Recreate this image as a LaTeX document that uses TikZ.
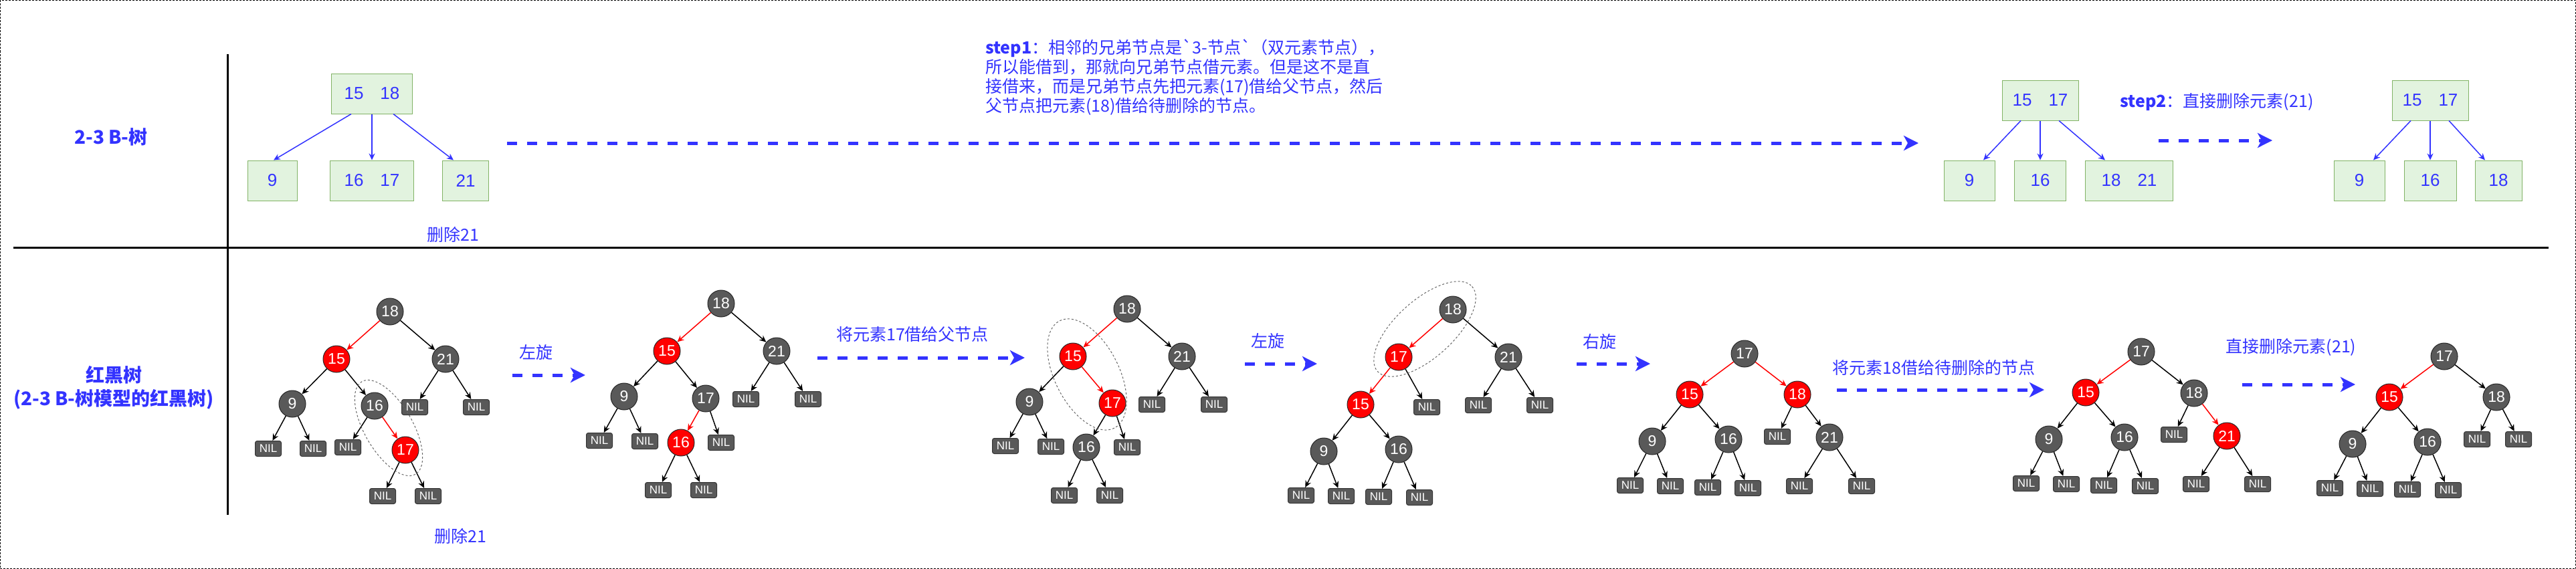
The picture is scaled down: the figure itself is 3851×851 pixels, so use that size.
\documentclass[tikz,border=0pt]{standalone}
\usepackage{fontspec}
\setmainfont{Liberation Sans}
\newfontfamily\cjk{Noto Sans CJK SC}
\usetikzlibrary{arrows.meta}
\definecolor{hblue}{HTML}{3333FF}
\definecolor{ngray}{HTML}{595959}
\definecolor{bfill}{HTML}{E2F3DF}
\definecolor{bline}{HTML}{82B366}
\tikzset{
  bnode/.style={circle,draw=black!85,fill=ngray,line width=1pt,minimum size=40pt,inner sep=0pt,text=white,font=\fontsize{23}{23}\selectfont},
  rnode/.style={bnode,fill=red},
  nilbox/.style={rectangle,rounded corners=3pt,draw=black!80,fill=ngray,line width=1pt,minimum width=39pt,minimum height=23pt,inner sep=0pt,text=white,font=\fontsize{17}{17}\selectfont},
  edge/.style={-{Stealth[length=10pt,width=9pt]},line width=1.5pt},
  redge/.style={edge,red},
  bbox/.style={draw=bline,fill=bfill,line width=1pt,minimum height=60pt,inner sep=0pt,text=hblue,font=\fontsize{26}{26}\selectfont},
  bedge/.style={-{Stealth[length=10pt,width=9pt]},line width=1.5pt,hblue},
  flow/.style={-{Stealth[length=22pt,width=22pt,inset=6pt]},line width=5pt,hblue,dash pattern=on 15pt off 15pt},
  hint/.style={draw=black!60,line width=1pt,dash pattern=on 3pt off 3pt},
  lbl/.style={text=hblue,font=\cjk\fontsize{25}{29}\selectfont,inner sep=0pt},
  title/.style={lbl,font=\cjk\bfseries\fontsize{28}{35}\selectfont,align=center}
}

\begin{document}
\begin{tikzpicture}[x=1pt,y=-1pt]
  \useasboundingbox (0,0) rectangle (3851,851);
  \draw[line width=1pt,dash pattern=on 3pt off 2pt] (0.5,0.5) rectangle (3850.5,850.5);
  \draw[line width=3pt] (340,81) -- (340,770);
  \draw[line width=3pt] (20,370) -- (3810,370);

  \node[title] (tbt) at (166,205) {2-3 B-树};
  \node[title] (trb) at (170,580) {红黑树\\(2-3 B-树模型的红黑树)};

  % 2-3 tree
  \node[bbox,minimum width=121pt] (p1) at (556,140) {15\hspace{25pt}18};
  \node[bbox,minimum width=74pt] (p1a) at (407,270) {9};
  \node[bbox,minimum width=125pt] (p1b) at (556,270) {16\hspace{25pt}17};
  \node[bbox,minimum width=69pt] (p1c) at (696,270) {21};
  \draw[bedge] ([xshift=-31pt]p1.south) -- ([xshift=2pt]p1a.north);
  \draw[bedge] (p1.south) -- (p1b.north);
  \draw[bedge] ([xshift=32pt]p1.south) -- ([xshift=-18pt]p1c.north);
  \node[lbl] (del1) at (677,351) {删除21};

  \node[bbox,minimum width=114pt] (p2) at (3050,150) {15\hspace{25pt}17};
  \node[bbox,minimum width=76pt] (p2a) at (2944,270) {9};
  \node[bbox,minimum width=77pt] (p2b) at (3050,270) {16};
  \node[bbox,minimum width=131pt] (p2c) at (3183,270) {18\hspace{25pt}21};
  \draw[bedge] ([xshift=-29pt]p2.south) -- ([xshift=21pt]p2a.north);
  \draw[bedge] (p2.south) -- (p2b.north);
  \draw[bedge] ([xshift=28pt]p2.south) -- ([xshift=-36pt]p2c.north);

  \node[bbox,minimum width=114pt] (p3) at (3633,150) {15\hspace{25pt}17};
  \node[bbox,minimum width=76pt] (p3a) at (3527,270) {9};
  \node[bbox,minimum width=78pt] (p3b) at (3633,270) {16};
  \node[bbox,minimum width=70pt] (p3c) at (3735,270) {18};
  \draw[bedge] ([xshift=-29pt]p3.south) -- ([xshift=21pt]p3a.north);
  \draw[bedge] (p3.south) -- (p3b.north);
  \draw[bedge] ([xshift=28pt]p3.south) -- ([xshift=-20pt]p3c.north);

  \node[lbl,align=left,anchor=north west] (s1) at (1473,58)
    {{\bfseries step1}：相邻的兄弟节点是\textasciigrave 3-节点\textasciigrave（双元素节点），\\
     所以能借到，那就向兄弟节点借元素。但是这不是直\\
     接借来，而是兄弟节点先把元素(17)借给父节点，然后\\
     父节点把元素(18)借给待删除的节点。};
  \node[lbl] (s2) at (3314,152) {{\bfseries step2}：直接删除元素(21)};
  \coordinate (f0s) at (758,214); \coordinate (f0e) at (2868,214);
  \coordinate (f1s) at (3227,210); \coordinate (f1e) at (3397,210);
  \draw[flow] (f0s) -- (f0e);
  \draw[flow] (f1s) -- (f1e);

  % red-black trees
  \foreach \n/\x/\y/\t in {a18/583/466/18,a21/666/537/21,a9/437/604/9,a16/560/607/16,
      b18/1078/454/18,b21/1161/525/21,b9/933/593/9,b17/1055/596/17,
      c18/1685/462/18,c21/1767/533/21,c9/1539/601/9,c16/1624/669/16,
      d18/2172/463/18,d21/2255/534/21,d9/1979/675/9,d16/2091/672/16,
      e17/2608/529/17,e9/2470/660/9,e16/2584/657/16,e21/2735/654/21,
      f17/3201/526/17,f18/3280/588/18,f9/3063/657/9,f16/3176/654/16,
      g17/3654/533/17,g18/3732/594/18,g9/3517/664/9,g16/3629/661/16}
    \node[bnode] (\n) at (\x,\y) {\t};
  \foreach \n/\x/\y/\t in {a15/503/537/15,a17/606/673/17,b15/997/525/15,b16/1018/662/16,
      c15/1604/533/15,c17/1663/603/17,d17/2091/534/17,d15/2034/605/15,
      e15/2526/590/15,e18/2687/590/18,f15/3118/587/15,f21/3329/652/21,g15/3572/594/15}
    \node[rnode] (\n) at (\x,\y) {\t};
  \foreach \n/\x/\y in {a9l/401/671,a9r/468/671,a16l/520/669,a21l/620/609,a21r/712/609,a17l/572/742,a17r/640/742,
      b21l/1115/597,b21r/1208/597,b9l/896/659,b9r/964/660,b17r/1078/662,b16l/984/733,b16r/1052/733,
      c21l/1722/605,c21r/1815/605,c9l/1503/667,c9r/1571/668,c17r/1685/669,c16l/1591/741,c16r/1659/741,
      d17r/2133/609,d21l/2210/606,d21r/2302/606,d9l/1945/741,d9r/2005/742,d16l/2061/743,d16r/2122/744,
      e18l/2657/653,e9l/2437/726,e9r/2497/727,e16l/2553/729,e16r/2613/730,e21l/2690/727,e21r/2783/727,
      f18l/3250/650,f9l/3029/723,f9r/3089/724,f16l/3145/726,f16r/3207/727,f21l/3283/724,f21r/3375/724,
      g18l/3703/657,g18r/3765/657,g9l/3483/730,g9r/3543/731,g16l/3599/732,g16r/3660/733}
    \node[nilbox] (\n) at (\x,\y) {NIL};

  \foreach \a/\b in {a18/a21,a15/a9,a15/a16,a21/a21l,a21/a21r,a9/a9l,a9/a9r,a16/a16l,a17/a17l,a17/a17r,
      b18/b21,b15/b9,b15/b17,b21/b21l,b21/b21r,b9/b9l,b9/b9r,b17/b17r,b16/b16l,b16/b16r,
      c18/c21,c15/c9,c21/c21l,c21/c21r,c9/c9l,c9/c9r,c17/c16,c17/c17r,c16/c16l,c16/c16r,
      d18/d21,d17/d17r,d21/d21l,d21/d21r,d15/d9,d15/d16,d9/d9l,d9/d9r,d16/d16l,d16/d16r,
      e15/e9,e15/e16,e18/e18l,e18/e21,e9/e9l,e9/e9r,e16/e16l,e16/e16r,e21/e21l,e21/e21r,
      f17/f18,f15/f9,f15/f16,f18/f18l,f9/f9l,f9/f9r,f16/f16l,f16/f16r,f21/f21l,f21/f21r,
      g17/g18,g15/g9,g15/g16,g18/g18l,g18/g18r,g9/g9l,g9/g9r,g16/g16l,g16/g16r}
    \draw[edge] (\a) -- (\b);
  \foreach \a/\b in {a18/a15,a16/a17,b18/b15,b17/b16,c18/c15,c15/c17,d18/d17,d17/d15,
      e17/e15,e17/e18,f17/f15,f18/f21,g17/g15}
    \draw[redge] (\a) -- (\b);

  \draw[hint,shift={(581,640)},rotate=-60] (0,0) ellipse [x radius=80,y radius=36];
  \draw[hint,shift={(1625,560)},rotate=-63] (0,0) ellipse [x radius=90,y radius=48];
  \draw[hint,shift={(2130,492)},rotate=42] (0,0) ellipse [x radius=95,y radius=43];

  \node[lbl] (del2) at (688,802) {删除21};
  \node[lbl] (rl1) at (801,527) {左旋};
  \node[lbl] (mv1) at (1364,500) {将元素17借给父节点};
  \node[lbl] (rl2) at (1895,510) {左旋};
  \node[lbl] (rr) at (2391,511) {右旋};
  \node[lbl] (mv2) at (2891,550) {将元素18借给待删除的节点};
  \node[lbl] (rm) at (3425,519) {直接删除元素(21)};
  \coordinate (g1s) at (766,561); \coordinate (g1e) at (875,561);
  \coordinate (g2s) at (1222,535); \coordinate (g2e) at (1532,535);
  \coordinate (g3s) at (1861,544); \coordinate (g3e) at (1969,544);
  \coordinate (g4s) at (2357,544); \coordinate (g4e) at (2467,544);
  \coordinate (g5s) at (2746,583); \coordinate (g5e) at (3056,583);
  \coordinate (g6s) at (3352,575); \coordinate (g6e) at (3521,575);
  \foreach \i in {1,...,6}
    \draw[flow] (g\i s) -- (g\i e);
\end{tikzpicture}
\end{document}
